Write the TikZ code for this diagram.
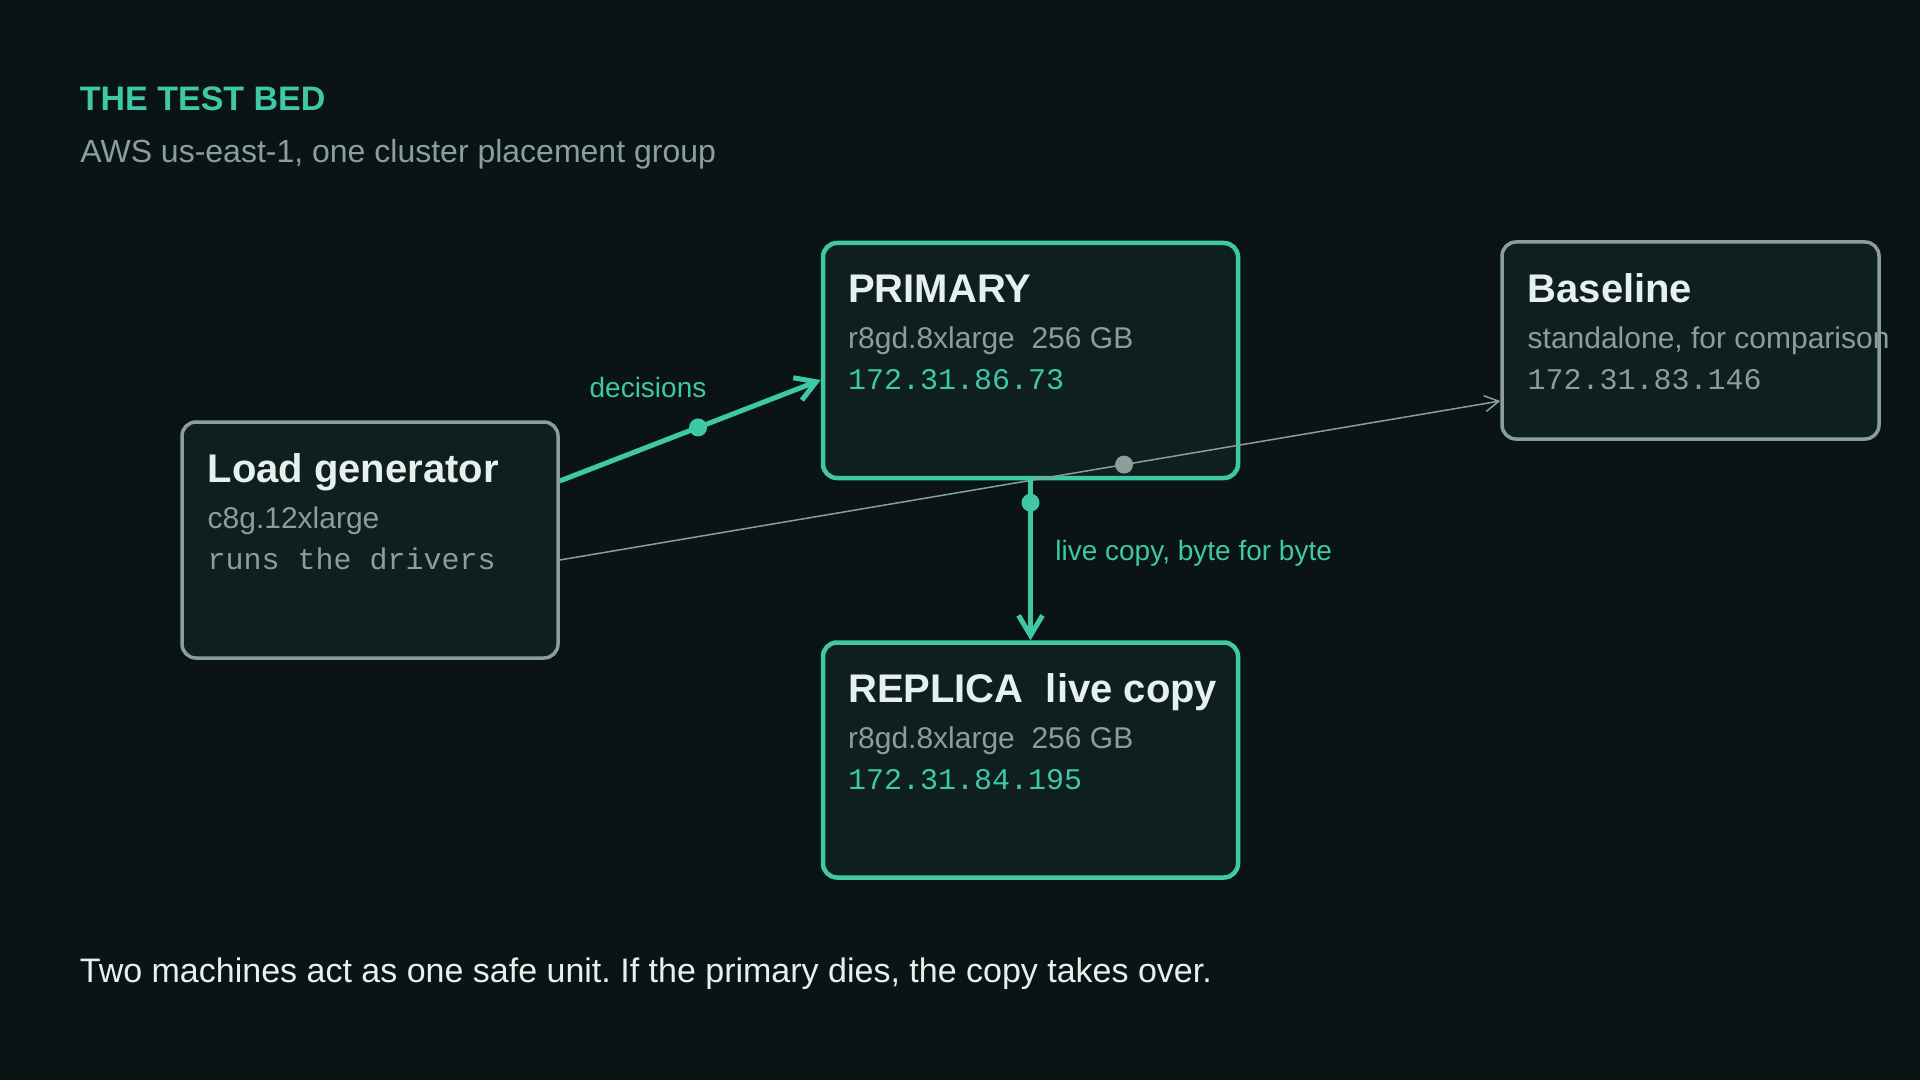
\documentclass[tikz,border=0pt]{standalone}
\usepackage{fontspec}
\setmainfont{Liberation Sans}
\setmonofont{Liberation Mono}
\usepackage{tikz}
\usetikzlibrary{arrows.meta,positioning}
\definecolor{bgdark}{HTML}{0A1415}
\definecolor{boxfill}{HTML}{0F1E1F}
\definecolor{mint}{HTML}{3EC8A6}
\definecolor{slate}{HTML}{8A9E9A}
\definecolor{ink}{HTML}{E6F0ED}
\frenchspacing
\tikzset{
  machine/.style={rectangle, rounded corners=7pt, draw=slate, line width=1.75pt,
                  fill=boxfill, inner sep=0pt},
  machinehot/.style={machine, draw=mint, line width=2.25pt},
  boxhead/.style={anchor=base west, inner sep=0pt, text=ink,
                  font=\fontsize{20}{24}\selectfont\bfseries},
  boxspec/.style={anchor=base west, inner sep=0pt, text=slate,
                  font=\fontsize{15}{18}\selectfont},
  boxip/.style={anchor=base west, inner sep=0pt, text=mint,
                font=\fontsize{15}{18}\selectfont\ttfamily},
  boxipgray/.style={boxip, text=slate},
  linkhot/.style={-{Straight Barb[length=10pt, width=12pt]}, line width=2.5pt, mint},
  linkfaint/.style={-{Straight Barb[length=7pt, width=8pt]}, line width=0.75pt, slate},
  tapdot/.style={circle, fill=mint, inner sep=0pt, minimum size=9pt},
  tapdotgray/.style={tapdot, fill=slate},
  linklabel/.style={inner sep=0pt, text=mint, font=\fontsize{14}{17}\selectfont},
}

\begin{document}
\begin{tikzpicture}[x=0.5pt, y=-0.5pt]
\fill[bgdark] (0,0) rectangle (1920,1080);
\useasboundingbox (0,0) rectangle (1920,1080);

% header
\node[anchor=base west, inner sep=0pt, text=mint, font=\fontsize{17}{20}\selectfont\bfseries]
  (title) at (79.5,111) {THE TEST BED};
\node[anchor=base west, inner sep=0pt, text=slate, font=\fontsize{16}{19}\selectfont]
  (subtitle) at (80,163) {AWS us-east-1, one cluster placement group};

% machines
\node[machine, minimum width=188pt, minimum height=118pt] (loadgen) at (370,540) {};
\node[machinehot, minimum width=207.5pt, minimum height=117.5pt] (primary) at (1030.5,360.5) {};
\node[machinehot, minimum width=207.5pt, minimum height=117.5pt, below=80pt of primary] (replica) {};
\node[machine, minimum width=188.5pt, minimum height=98.5pt] (baseline) at (1690.5,340.5) {};

% links
\draw[linkhot] ([yshift=29.5pt]loadgen.east) -- node[tapdot, pos=0.53] (tapdec) {}
  ([yshift=-9.75pt]primary.west);
\draw[linkfaint] ([yshift=-10pt]loadgen.east) -- node[tapdotgray, pos=0.6] (tapbase) {}
  ([yshift=-30.25pt]baseline.west);
\draw[linkhot] (primary.south) -- node[tapdot, pos=0.14] (tapcopy) {} (replica.north);
\node[linklabel, anchor=base] (declabel) at (648,397) {decisions};
\node[linklabel, anchor=base west] (copylabel) at (1055,560) {live copy, byte for byte};

% box texts
\node[boxhead] (loadgenhead) at ([shift={(27,62)}]loadgen.north west) {Load generator};
\node[boxspec] (loadgenspec) at ([shift={(27,108)}]loadgen.north west) {c8g.12xlarge};
\node[boxipgray] (loadgenip) at ([shift={(27,149)}]loadgen.north west) {runs the drivers};

\node[boxhead] (primaryhead) at ([shift={(27,62)}]primary.north west) {PRIMARY};
\node[boxspec] (primaryspec) at ([shift={(27,108)}]primary.north west) {r8gd.8xlarge\ \ 256 GB};
\node[boxip] (primaryip) at ([shift={(27,149)}]primary.north west) {172.31.86.73};

\node[boxhead] (replicahead) at ([shift={(27,62)}]replica.north west) {REPLICA\ \ live copy};
\node[boxspec] (replicaspec) at ([shift={(27,108)}]replica.north west) {r8gd.8xlarge\ \ 256 GB};
\node[boxip] (replicaip) at ([shift={(27,149)}]replica.north west) {172.31.84.195};

\node[boxhead] (baselinehead) at ([shift={(27,62)}]baseline.north west) {Baseline};
\node[boxspec] (baselinespec) at ([shift={(27,108)}]baseline.north west) {standalone, for comparison};
\node[boxipgray] (baselineip) at ([shift={(27,149)}]baseline.north west) {172.31.83.146};

% footer
\node[anchor=base west, inner sep=0pt, text=ink, font=\fontsize{17}{20}\selectfont]
  (footnote) at (79.5,982) {Two machines act as one safe unit. If the primary dies, the copy takes over.};
\end{tikzpicture}
\end{document}
